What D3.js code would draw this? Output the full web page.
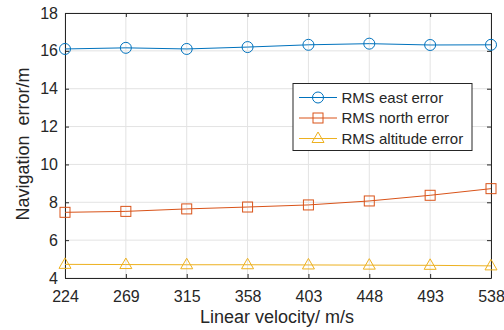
<!DOCTYPE html>
<html>
<head>
<meta charset="utf-8">
<script src="https://cdn.jsdelivr.net/npm/d3@7"></script>
<style>
  body { margin: 0; background: #fff; }
  svg { font-family: "Liberation Sans", Arial, sans-serif; }
</style>
</head>
<body>
<div id="chart"></div>
<script>
// velocities (categorical x positions)
const velocities = ["224", "269", "315", "358", "403", "448", "493", "538"];
const eastError = [16.1, 16.16, 16.1, 16.2, 16.32, 16.38, 16.31, 16.32];
const northError = [7.47, 7.52, 7.65, 7.75, 7.86, 8.07, 8.37, 8.72];
const altitudeError = [4.72, 4.71, 4.7, 4.7, 4.69, 4.68, 4.67, 4.64];
const yTicks = [4, 6, 8, 10, 12, 14, 16, 18];
const seriesNames = ["RMS east error", "RMS north error", "RMS altitude error"];

const W = 504, H = 330;
const margin = { top: 13, right: 13, bottom: 52, left: 65 };
const width = W - margin.left - margin.right;
const height = H - margin.top - margin.bottom;

const svg = d3.select("#chart").append("svg").attr("width", W).attr("height", H);
const g = svg.append("g").attr("transform", `translate(${margin.left},${margin.top})`);

const x = d3.scalePoint().domain(velocities).range([0, width]);
const y = d3.scaleLinear().domain([4, 18]).range([height, 0]);

// grid
g.append("g").selectAll("line.vg").data(velocities).enter().append("line")
  .attr("x1", d => x(d)).attr("x2", d => x(d)).attr("y1", 0).attr("y2", height)
  .attr("stroke", "#e3e3e3").attr("stroke-width", 1);
g.append("g").selectAll("line.hg").data(yTicks).enter().append("line")
  .attr("x1", 0).attr("x2", width).attr("y1", d => y(d)).attr("y2", d => y(d))
  .attr("stroke", "#e3e3e3").attr("stroke-width", 1);

// axes, ticks pointing inward, box on
const axisColor = "#262626";
const xAxis = g.append("g").attr("transform", `translate(0,${height})`)
  .call(d3.axisBottom(x).tickSizeInner(-4).tickSizeOuter(0).tickPadding(13));
const xTop = g.append("g").call(d3.axisTop(x).tickSizeInner(-4).tickSizeOuter(0).tickFormat(""));
const yAxis = g.append("g").call(d3.axisLeft(y).tickValues(yTicks).tickSizeInner(-4).tickSizeOuter(0).tickPadding(7));
const yRight = g.append("g").attr("transform", `translate(${width},0)`)
  .call(d3.axisRight(y).tickValues(yTicks).tickSizeInner(-4).tickSizeOuter(0).tickFormat(""));

[xAxis, xTop, yAxis, yRight].forEach(a => {
  a.select(".domain").attr("stroke", axisColor).attr("stroke-width", 1);
  a.selectAll(".tick line").attr("stroke", axisColor);
  a.selectAll(".tick text").attr("fill", axisColor).attr("font-size", "16px")
    .attr("font-family", "Liberation Sans, Arial, sans-serif");
});
xAxis.selectAll(".tick text").attr("y", 13).attr("dy", "0.71em");

// series
const series = [
  { name: seriesNames[0], values: eastError, color: "#0072BD", marker: "circle" },
  { name: seriesNames[1], values: northError, color: "#D95319", marker: "square" },
  { name: seriesNames[2], values: altitudeError, color: "#EDB120", marker: "triangle" },
];

const line = d3.line().x((d, i) => x(velocities[i])).y(d => y(d));

function drawMarker(sel, type, color) {
  if (type === "circle") {
    sel.append("circle").attr("r", 5.5).attr("fill", "none").attr("stroke", color).attr("stroke-width", 1);
  } else if (type === "square") {
    sel.append("rect").attr("x", -5).attr("y", -5).attr("width", 10).attr("height", 10)
      .attr("fill", "none").attr("stroke", color).attr("stroke-width", 1);
  } else {
    sel.append("path").attr("d", "M0,-6.5L6,4L-6,4Z")
      .attr("fill", "none").attr("stroke", color).attr("stroke-width", 1);
  }
}

series.forEach(s => {
  g.append("path").datum(s.values).attr("d", line)
    .attr("fill", "none").attr("stroke", s.color).attr("stroke-width", 1);
  const m = g.append("g").selectAll("g").data(s.values).enter().append("g")
    .attr("transform", (d, i) => `translate(${x(velocities[i])},${y(d)})`);
  drawMarker(m, s.marker, s.color);
});

// legend
const legend = svg.append("g").attr("transform", "translate(293,83.5)");
legend.append("rect").attr("width", 179).attr("height", 67)
  .attr("fill", "#fff").attr("stroke", "#262626").attr("stroke-width", 1);
series.forEach((s, i) => {
  const row = legend.append("g").attr("transform", `translate(0,${14 + i * 20.5})`);
  row.append("line").attr("x1", 6).attr("x2", 44).attr("y1", 0).attr("y2", 0)
    .attr("stroke", s.color).attr("stroke-width", 1);
  const mk = row.append("g").attr("transform", "translate(25,0)");
  drawMarker(mk, s.marker, s.color);
  row.append("text").attr("x", 48.5).attr("y", 0).attr("dy", "0.35em")
    .attr("font-size", "15px").attr("fill", "#262626").text(s.name);
});

// axis labels
svg.append("text").attr("x", margin.left + width / 2 - 1).attr("y", 323)
  .attr("text-anchor", "middle").attr("font-size", "18px").attr("fill", "#262626")
  .text("Linear velocity/ m/s");
svg.append("text").attr("transform", `translate(29,144) rotate(-90)`)
  .attr("text-anchor", "middle").attr("font-size", "18px").attr("fill", "#262626")
  .attr("xml:space", "preserve").style("white-space", "pre")
  .text("Navigation  error/m");
</script>
</body>
</html>
